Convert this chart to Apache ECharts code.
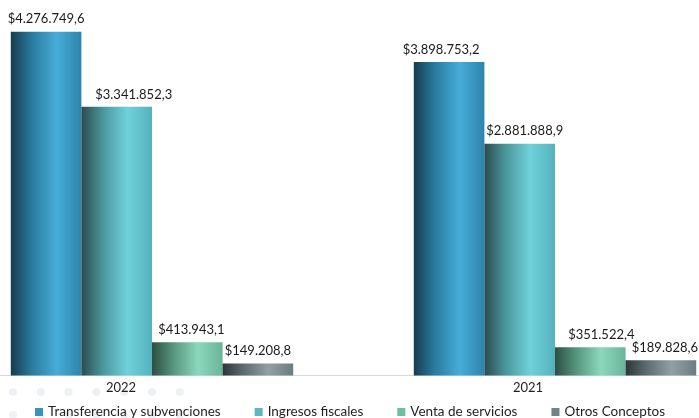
<!DOCTYPE html>
<html>
<head>
<meta charset="utf-8">
<script src="https://cdn.jsdelivr.net/npm/echarts@6/dist/echarts.min.js"></script>
<style>
html,body{margin:0;padding:0;background:#fff;}
#chart{width:699px;height:418px;}
</style>
</head>
<body>
<div id="chart"></div>
<script>
const categories = ['2022', '2021'];
const seriesNames = ['Transferencia y subvenciones', 'Ingresos fiscales', 'Venta de servicios', 'Otros Conceptos'];
const transferencias = [4276749.6, 3898753.2];
const ingresos = [3341852.3, 2881888.9];
const venta = [413943.1, 351522.4];
const otros = [149208.8, 189828.6];

const FONT = 'Lato';
function fmt(v) {
  const parts = v.toFixed(1).split('.');
  const intPart = parts[0].replace(/\B(?=(\d{3})+(?!\d))/g, '.');
  return '$' + intPart + ',' + parts[1];
}
function grad(c0, c1, c2, c3) {
  return new echarts.graphic.LinearGradient(0, 0, 1, 0, [
    {offset: 0, color: c0},
    {offset: 0.3, color: c1},
    {offset: 0.65, color: c2},
    {offset: 1, color: c3}
  ]);
}
const styles = [
  {legend: '#3a93bd', fill: grad('#163c4e', '#2a7b9f', '#47acd8', '#2d84ab')},
  {legend: '#5bb8c0', fill: grad('#2c4a4d', '#4a979c', '#6fd1db', '#55b2bc')},
  {legend: '#6dbf9e', fill: grad('#2d4e43', '#56957e', '#8bd8bd', '#6ab49a')},
  {legend: '#6f8488', fill: grad('#2b3639', '#5c6d71', '#8fa1a5', '#6c7d82')}
];
// horizontal nudges of the value labels (layout only)
const labelDx = [[0, -8], [17, 5], [4, 11], [0, 4]];
const values = [transferencias, ingresos, venta, otros];

const chart = echarts.init(document.getElementById('chart'), null, {renderer: 'canvas'});

const dots = [];
[392, 415].forEach(function (y) {
  for (let i = 0; i < 7; i++) {
    dots.push({type: 'circle', silent: true, z: -10,
      shape: {cx: 13 + 27.8 * i, cy: y, r: 4},
      style: {fill: '#eef1f3'}});
  }
});

chart.setOption({
  animation: false,
  backgroundColor: '#ffffff',
  graphic: dots,
  grid: {left: -49.5, right: -57.5, top: 13.7, bottom: 42.5, containLabel: false, outerBoundsMode: 'none'},
  legend: {
    data: seriesNames.map(function (n, i) { return {name: n, itemStyle: {color: styles[i].legend}}; }),
    left: 30, top: 400,
    icon: 'rect', itemWidth: 8, itemHeight: 8, itemGap: 34,
    textStyle: {fontFamily: FONT, fontSize: 13.5, color: '#1f1f1f'}
  },
  xAxis: {
    type: 'category',
    data: categories,
    axisLine: {show: true, lineStyle: {color: '#d9d9d9', width: 1}},
    axisTick: {show: false},
    axisLabel: {
      margin: 6,
      formatter: function (v) { return v === '2022' ? '{a|' + v + '}' : '{b|' + v + '}'; },
      rich: {
        a: {fontFamily: FONT, fontSize: 13, color: '#1f1f1f', padding: [0, 62, 0, 0]},
        b: {fontFamily: FONT, fontSize: 13, color: '#1f1f1f', padding: [0, 54, 0, 0]}
      }
    }
  },
  yAxis: {type: 'value', min: 0, max: 4500000, show: false, splitLine: {show: false}},
  series: seriesNames.map(function (name, si) {
    return {
      name: name,
      type: 'bar',
      barWidth: 70.6,
      barGap: '0%',
      itemStyle: {color: styles[si].fill},
      label: {
        show: true, position: 'top', distance: 6,
        fontFamily: FONT, fontSize: 13, color: '#1a1a1a',
        formatter: function (p) { return fmt(p.value); }
      },
      data: values[si].map(function (v, ci) {
        return {value: v, label: {offset: [labelDx[si][ci], 0]}};
      })
    };
  }),
  color: styles.map(function (s) { return s.legend; })
});
</script>
</body>
</html>
